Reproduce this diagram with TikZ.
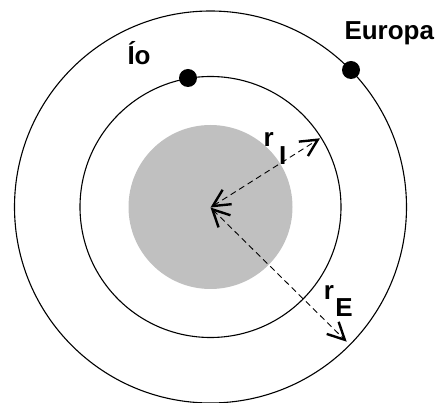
\documentclass[tikz,border=0pt]{standalone}
\usepackage{fontspec}
\setmainfont{Liberation Sans}
\usetikzlibrary{arrows.meta}
\definecolor{planet}{RGB}{192,192,192}
\tikzset{
  orbit/.style={draw=black, line width=1.1pt},
  moon/.style={circle, fill=black, minimum size=18pt, inner sep=0pt},
  lbl/.style={anchor=base west, inner sep=0pt, font=\fontsize{26}{30}\selectfont\bfseries},
  radius arrow/.style={line width=0.9pt, dash pattern=on 6pt off 4pt,
    {Straight Barb[length=17pt,width=17pt,line width=2.4pt]}-{Straight Barb[length=17pt,width=17pt,line width=2.4pt]}}
}
\begin{document}
\begin{tikzpicture}[x=1pt,y=-1pt]
\useasboundingbox (0,0) rectangle (437,403);
\coordinate (c) at (210.5,207);
\coordinate (ctip) at (210.5,207.5);
\fill[planet] (c) circle[radius=82pt];
\draw[orbit] (c) circle[radius=130.5pt];
\draw[orbit] (c) circle[radius=196pt];
\node[moon] (io) at (188,78) {};
\node[moon] (europa) at (351,70) {};
\node[lbl] (iolbl) at (127.3,64.3) {Ío};
\node[lbl] (eulbl) at (344.3,39.5) {Europa};
\coordinate (iend) at (320,138.3);
\coordinate (eend) at (346.7,341.7);
\draw[radius arrow] (ctip) -- (iend);
\draw[radius arrow] (ctip) -- (eend);
\node[lbl] (rI) at (263.3,146.7) {r\hspace{5.6pt}\raisebox{-17.6pt}{I}};
\node[lbl] (rE) at (323.6,300) {r\hspace{1.4pt}\raisebox{-16.7pt}{E}};
\end{tikzpicture}
\end{document}
